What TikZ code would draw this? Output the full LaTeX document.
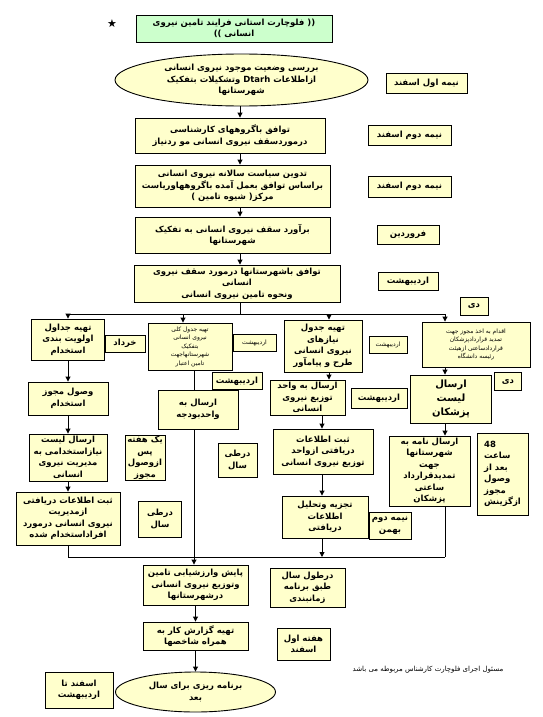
\documentclass[tikz,border=0pt]{standalone}
\usepackage{fontspec}
\usepackage{xcolor}
\usetikzlibrary{arrows.meta,shapes.geometric}
\TeXXeTstate=1
\newfontfamily\fafont[Script=Arabic]{DejaVu Sans}
\newfontfamily\symfont{DejaVu Sans}
\definecolor{boxyellow}{RGB}{255,255,204}
\definecolor{titlegreen}{RGB}{204,255,204}
\newcommand{\fa}[1]{\beginR #1\endR}
\tikzset{
  box/.style={draw,line width=0.9pt,fill=boxyellow,align=center,inner sep=1pt,
    font=\fafont\bfseries\fontsize{8.5}{11.5}\selectfont},
  wh/.style 2 args={minimum width=#1pt,minimum height=#2pt},
  smallbox/.style={box,font=\fafont\fontsize{6}{8.5}\selectfont},
  oval/.style={box,ellipse,inner sep=0pt},
  flow/.style={line width=0.9pt,-{Triangle[length=5pt,width=5pt]}},
  wire/.style={line width=0.9pt},
}
\begin{document}
\begin{tikzpicture}[x=1pt,y=-1pt]
    \useasboundingbox (0,0) rectangle (542,717);
    \node[font=\symfont\fontsize{11}{11}\selectfont] (star) at (112,24) {★};
    \node[box,fill=titlegreen,wh={196}{27}] (title) at (234,28.5) {\fa{(( فلوچارت استانی فرایند تامین نیروی}\\\fa{انسانی ))}};
    \node[oval,wh={253}{52}] (oval1) at (241.5,80) {\fa{بررسی وضعیت موجود نیروی انسانی}\\\fa{ازاطلاعات \beginL Dtarh\endL{} وتشکیلات بتفکیک}\\\fa{شهرستانها}};
    \node[box,wh={81}{20}] (d1) at (426.5,83) {\fa{نیمه اول اسفند}};
    \node[box,wh={190}{35}] (b2) at (230,135.5) {\fa{توافق باگروههای کارشناسی}\\\fa{درموردسقف نیروی انسانی مو ردنیاز}};
    \node[box,wh={83}{20}] (d2) at (409.5,135) {\fa{نیمه دوم اسفند}};
    \node[box,wh={195}{42}] (b3) at (232.5,186) {\fa{تدوین سیاست سالانه نیروی انسانی}\\\fa{براساس توافق بعمل آمده باگروههاوریاست}\\\fa{مرکز( شیوه تامین )}};
    \node[box,wh={83}{21}] (d3) at (409.5,186.5) {\fa{نیمه دوم اسفند}};
    \node[box,wh={195}{36}] (b4) at (232.5,235) {\fa{برآورد سقف نیروی انسانی به تفکیک}\\\fa{شهرستانها}};
    \node[box,wh={62}{19}] (d4) at (408,234.5) {\fa{فروردین}};
    \node[box,wh={206}{37}] (b5) at (237,283.5) {\fa{توافق باشهرستانها درمورد سقف نیروی}\\\fa{انسانی}\\\fa{ونحوه تامین نیروی انسانی}};
    \node[box,wh={60}{18}] (d5) at (408,281) {\fa{اردیبهشت}};
    \node[box,wh={28}{18}] (d6) at (474,306) {\fa{دی}};
    % columns
    \node[box,wh={73}{41}] (c1a) at (68,339.5) {\fa{تهیه جداول}\\\fa{اولویت بندی}\\\fa{استخدام}};
    \node[box,wh={40}{17}] (d7) at (125,343.5) {\fa{خرداد}};
    \node[smallbox,wh={84}{47}] (c2a) at (190,346.5) {\fa{تهیه جدول کلی}\\\fa{نیروی انسانی}\\\fa{بتفکیک}\\\fa{شهرستانهاجهت}\\\fa{تامین اعتبار}};
    \node[smallbox,wh={43}{17}] (d8) at (254.5,342.5) {\fa{اردیبهشت}};
    \node[box,wh={50}{17}] (d9) at (237,381) {\fa{اردیبهشت}};
    \node[box,wh={78}{52}] (c3a) at (323,346) {\fa{تهیه جدول}\\\fa{نیازهای}\\\fa{نیروی انسانی}\\\fa{طرح و پیامآور}};
    \node[smallbox,wh={38}{17}] (d10) at (388,344.5) {\fa{اردیبهشت}};
    \node[smallbox,wh={108}{45}] (c4a) at (476,344.5) {\fa{اقدام به اخذ مجوز جهت}\\\fa{تمدید قراردادپزشکان}\\\fa{قراردادساعتی ازهیئت}\\\fa{رئیسه دانشگاه}};
    \node[box,font=\fafont\bfseries\fontsize{10}{14}\selectfont,wh={81}{48}] (c4b) at (451,399) {\fa{ارسال}\\\fa{لیست}\\\fa{پزشکان}};
    \node[box,wh={27}{18}] (d11) at (508,381.5) {\fa{دی}};
    \node[box,wh={80}{33}] (c1b) at (68,398.5) {\fa{وصول مجوز}\\\fa{استخدام}};
    \node[box,wh={78}{47}] (c1c) at (68,457.5) {\fa{ارسال لیست}\\\fa{نیازاستخدامی به}\\\fa{مدیریت نیروی}\\\fa{انسانی}};
    \node[box,wh={104}{53}] (c1d) at (68,518.5) {\fa{ثبت اطلاعات دریافتی}\\\fa{ازمدیریت}\\\fa{نیروی انسانی درمورد}\\\fa{افراداستخدام شده}};
    \node[box,wh={40}{44}] (d12) at (145,458) {\fa{یک هفته}\\\fa{پس}\\\fa{ازوصول}\\\fa{مجوز}};
    \node[box,wh={43}{36}] (d13) at (160,519) {\fa{درطی}\\\fa{سال}};
    \node[box,wh={80}{39}] (c2b) at (198,409.5) {\fa{ارسال به}\\\fa{واحدبودجه}};
    \node[box,wh={39}{34}] (d14) at (237.5,460) {\fa{درطی}\\\fa{سال}};
    \node[box,wh={75}{35}] (c3b) at (307.5,397.5) {\fa{ارسال به واحد}\\\fa{توزیع نیروی}\\\fa{انسانی}};
    \node[box,wh={56}{20}] (d15) at (379,398) {\fa{اردیبهشت}};
    \node[box,wh={100}{45}] (c3c) at (323,451.5) {\fa{ثبت اطلاعات}\\\fa{دریافتی ازواحد}\\\fa{توزیع نیروی انسانی}};
    \node[box,wh={86}{42}] (c3d) at (325,517) {\fa{تجزیه وتحلیل}\\\fa{اطلاعات}\\\fa{دریافتی}};
    \node[box,wh={42}{27}] (d16) at (390,525.5) {\fa{نیمه دوم}\\\fa{بهمن}};
    \node[box,wh={81}{70}] (c4c) at (429.5,471) {\fa{ارسال نامه به}\\\fa{شهرستانها}\\\fa{جهت}\\\fa{تمدیدقرارداد}\\\fa{ساعتی}\\\fa{پزشکان}};
    \node[box,align=left,wh={51}{82}] (d17) at (502.5,474) {\fa{48}\\\fa{ساعت}\\\fa{بعد از}\\\fa{وصول}\\\fa{مجوز}\\\fa{ازگزینش}};
    % bottom
    \node[box,wh={105}{40}] (b6) at (195.5,585) {\fa{پایش وارزشیابی تامین}\\\fa{وتوزیع نیروی انسانی}\\\fa{درشهرستانها}};
    \node[box,wh={75}{39}] (d18) at (307.5,587.5) {\fa{درطول سال}\\\fa{طبق برنامه}\\\fa{زمانبندی}};
    \node[box,wh={105}{28}] (b7) at (195.5,636) {\fa{تهیه گزارش کار به}\\\fa{همراه شاخصها}};
    \node[box,wh={53}{32}] (d19) at (303.5,644) {\fa{هفته اول}\\\fa{اسفند}};
    \node[oval,wh={160}{40}] (oval2) at (195.5,692) {\fa{برنامه ریزی برای سال}\\\fa{بعد}};
    \node[box,wh={68}{36}] (d20) at (79,690) {\fa{اسفند تا}\\\fa{اردیبهشت}};
    \node[font=\fafont\fontsize{7}{9}\selectfont] (note) at (428,670) {\fa{مسئول اجرای فلوچارت کارشناس مربوطه می باشد}};
    % connectors
    \coordinate (spine) at (240,0);
    \coordinate (col2) at (194,0);
    \coordinate (col3) at (322,0);
    \coordinate (col4) at (445,0);
    \coordinate (bus1) at (68,314);
    \coordinate (bus2) at (183,314);
    \coordinate (bus3) at (329,314);
    \coordinate (bus4) at (445,314);
    \coordinate (merge1) at (68,557);
    \coordinate (merge2) at (445,557);
    \draw[flow] (oval1.south -| spine) -- (spine |- b2.north);
    \draw[flow] (spine |- b2.south) -- (spine |- b3.north);
    \draw[flow] (spine |- b3.south) -- (spine |- b4.north);
    \draw[flow] (spine |- b4.south) -- (spine |- b5.north);
    \draw[wire] (spine |- b5.south) -- (spine |- bus1);
    \draw[wire] (bus1) -- (bus4);
    \draw[flow] (bus1) -- (c1a.north);
    \draw[flow] (bus2) -- (bus2 |- c2a.north);
    \draw[flow] (bus3) -- (bus3 |- c3a.north);
    \draw[flow] (bus4) -- (bus4 |- c4a.north);
    \draw[flow] (c1a) -- (c1b);
    \draw[flow] (c1b) -- (c1c);
    \draw[flow] (c1c) -- (c1d);
    \draw[wire] (c1d) -- (merge1);
    \draw[wire] (col2 |- c2a.south) -- (col2 |- c2b.north);
    \draw[wire] (col2 |- c2b.south) -- (col2 |- merge1);
    \draw[flow] (bus3 |- c3a.south) -- (bus3 |- c3b.north);
    \draw[flow] (col3 |- c3b.south) -- (col3 |- c3c.north);
    \draw[flow] (col3 |- c3c.south) -- (col3 |- c3d.north);
    \draw[flow] (col3 |- c3d.south) -- (col3 |- merge1);
    \draw[flow] (col4 |- c4a.south) -- (col4 |- c4b.north);
    \draw[flow] (col4 |- c4b.south) -- (col4 |- c4c.north);
    \draw[wire] (col4 |- c4c.south) -- (merge2);
    \draw[wire] (merge1) -- (merge2);
    \draw[flow] (col2 |- merge1) -- (col2 |- b6.north);
    \draw[flow] (b6) -- (b7);
    \draw[flow] (b7) -- (oval2);
\end{tikzpicture}
\end{document}
